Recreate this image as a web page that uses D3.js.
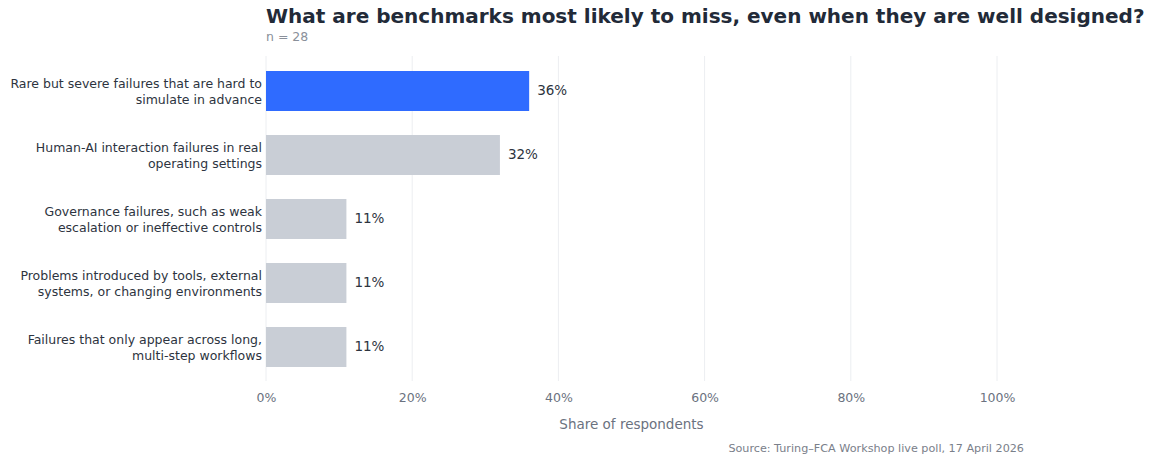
<!DOCTYPE html>
<html>
<head>
<meta charset="utf-8">
<script src="https://cdn.jsdelivr.net/npm/d3@7"></script>
<style>
  html, body { margin: 0; padding: 0; background: #fff; }
  svg { display: block; font-family: "DejaVu Sans", sans-serif; }
</style>
</head>
<body>
<svg id="chart" width="1150" height="457"></svg>
<script>
// Poll responses: each category label is split into its two display lines
const categories = [
  ["Rare but severe failures that are hard to", "simulate in advance"],
  ["Human-AI interaction failures in real", "operating settings"],
  ["Governance failures, such as weak", "escalation or ineffective controls"],
  ["Problems introduced by tools, external", "systems, or changing environments"],
  ["Failures that only appear across long,", "multi-step workflows"]
];
const shares = [36, 32, 11, 11, 11];
const xTicks = [0, 20, 40, 60, 80, 100];

const svg = d3.select("#chart");
const margin = { left: 266, right: 153, top: 59, bottom: 78 };
const W = 1150, H = 457;

const x = d3.scaleLinear().domain([0, 100]).range([margin.left, W - margin.right]);
const y = d3.scaleBand()
  .domain(d3.range(categories.length))
  .range([margin.top, H - margin.bottom])
  .paddingInner(0.375)
  .paddingOuter(0.1875);

// vertical gridlines
svg.append("g")
  .selectAll("line")
  .data(xTicks)
  .join("line")
  .attr("x1", d => x(d)).attr("x2", d => x(d))
  .attr("y1", 56).attr("y2", 381)
  .attr("stroke", "#eceef1")
  .attr("stroke-width", 1);

// bars
svg.append("g")
  .selectAll("rect")
  .data(shares)
  .join("rect")
  .attr("x", x(0))
  .attr("y", (d, i) => y(i))
  .attr("width", d => x(d) - x(0))
  .attr("height", y.bandwidth())
  .attr("fill", (d, i) => i === 0 ? "#2f6bff" : "#c9ced6");

// value labels
svg.append("g")
  .selectAll("text")
  .data(shares)
  .join("text")
  .attr("x", d => x(d) + 8)
  .attr("y", (d, i) => y(i) + y.bandwidth() / 2)
  .attr("dy", "0.3em")
  .attr("font-size", 13.5)
  .attr("fill", "#2d3440")
  .text(d => d + "%");

// category labels
const catG = svg.append("g")
  .selectAll("text")
  .data(categories)
  .join("text")
  .attr("text-anchor", "end")
  .attr("font-size", 12.5)
  .attr("fill", "#2d3440")
  .attr("transform", (d, i) => `translate(${x(0) - 4},${y(i) + y.bandwidth() / 2})`);
catG.selectAll("tspan")
  .data(d => d)
  .join("tspan")
  .attr("x", 0)
  .attr("y", (d, j) => (j === 0 ? -7 : 9))
  .attr("dy", "0.35em")
  .text(d => d);

// x axis tick labels
const xAxis = d3.axisBottom(x)
  .tickValues(xTicks)
  .tickFormat(d => d + "%")
  .tickSize(0)
  .tickPadding(0);
const axG = svg.append("g")
  .attr("transform", `translate(0,${H - margin.bottom})`)
  .call(xAxis);
axG.select(".domain").remove();
axG.selectAll("text")
  .attr("font-family", "DejaVu Sans, sans-serif")
  .attr("font-size", 12.5)
  .attr("fill", "#6b7280")
  .attr("y", 19)
  .attr("dy", "0.35em");

// axis title
svg.append("text")
  .attr("x", (x(0) + x(100)) / 2)
  .attr("y", 424)
  .attr("dy", "0.35em")
  .attr("text-anchor", "middle")
  .attr("font-size", 13.5)
  .attr("fill", "#6b7280")
  .text("Share of respondents");

// title and subtitle
svg.append("text")
  .attr("x", margin.left)
  .attr("y", 23)
  .attr("font-size", 20)
  .attr("font-weight", "bold")
  .attr("fill", "#222a38")
  .text("What are benchmarks most likely to miss, even when they are well designed?");
svg.append("text")
  .attr("x", margin.left)
  .attr("y", 41)
  .attr("font-size", 12.5)
  .attr("fill", "#8a909a")
  .text("n = 28");

// source note
svg.append("text")
  .attr("x", 1024)
  .attr("y", 448)
  .attr("dy", "0.35em")
  .attr("text-anchor", "end")
  .attr("font-size", 11.2)
  .attr("fill", "#7a808a")
  .text("Source: Turing–FCA Workshop live poll, 17 April 2026");
</script>
</body>
</html>
